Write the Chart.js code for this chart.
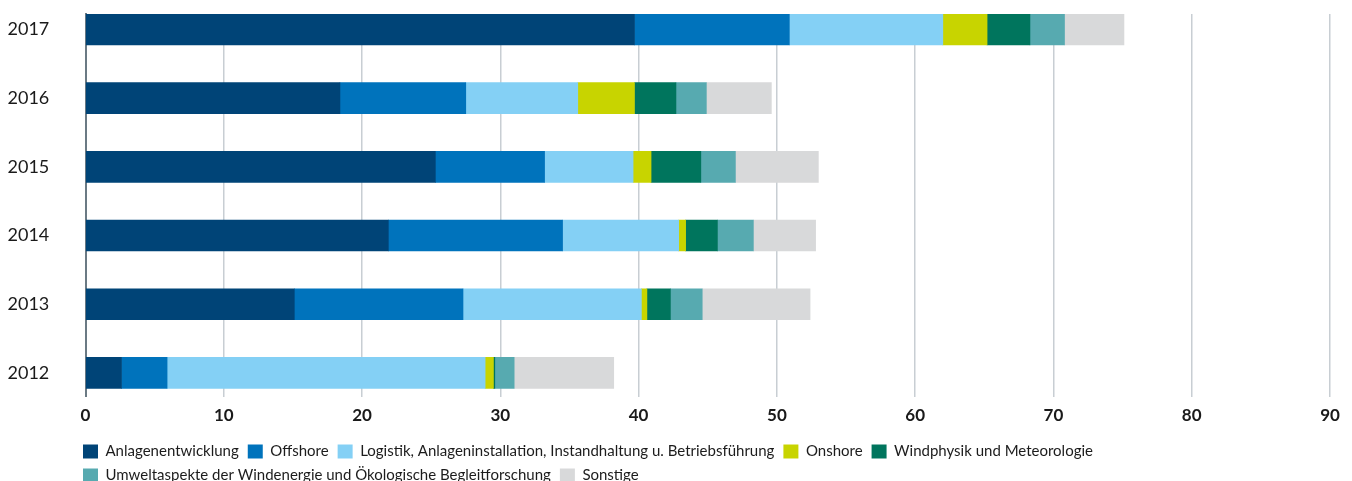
<!DOCTYPE html>
<html lang="de">
<head>
    <meta charset="UTF-8">
    <title>Windenergie Forschung</title>
    <script src="https://cdn.jsdelivr.net/npm/chart.js@4.4.1/dist/chart.umd.min.js"></script>
    <style>
        html, body { margin: 0; padding: 0; background: #fff; overflow: hidden; }
        #wrapper { position: relative; width: 1352px; height: 493px; }
    </style>
</head>
<body>

    <div id="wrapper">
        <canvas id="windChart"></canvas>
    </div>

    <script>

        // years top to bottom
        const years = [2017, 2016, 2015, 2014, 2013, 2012];

        const anlagen    = [39.7, 18.4, 25.3, 21.9, 15.1, 2.6];
        const offshore   = [11.2, 9.1, 7.9, 12.6, 12.2, 3.3];
        const logistik   = [11.1, 8.1, 6.4, 8.4, 12.9, 23.0];
        const onshore    = [3.2, 4.1, 1.3, 0.5, 0.4, 0.6];
        const windphysik = [3.1, 3.0, 3.6, 2.3, 1.7, 0.1];
        const umwelt     = [2.5, 2.2, 2.5, 2.6, 2.3, 1.4];
        const sonstige   = [4.3, 4.7, 6.0, 4.5, 7.8, 7.2];

        const xTicks = [0, 10, 20, 30, 40, 50, 60, 70, 80, 90];

        const seriesNames = [
            'Anlagenentwicklung',
            'Offshore',
            'Logistik, Anlageninstallation, Instandhaltung u. Betriebsführung',
            'Onshore',
            'Windphysik und Meteorologie',
            'Umweltaspekte der Windenergie und Ökologische Begleitforschung',
            'Sonstige'
        ];
        const seriesValues = [anlagen, offshore, logistik, onshore, windphysik, umwelt, sonstige];
        const seriesColors = ['#004477', '#0073bc', '#84d0f5', '#c8d400', '#00755d', '#57aab0', '#d8d9da'];

        const datasets = [];
        for (let i = 0; i < seriesNames.length; i++) {
            datasets.push({
                label: seriesNames[i],
                data: seriesValues[i],
                backgroundColor: seriesColors[i],
                borderWidth: 0,
                barThickness: 31
            });
        }

        // move the legend so it starts under the plot, like the original
        const legendShift = {
            id: 'legendShift',
            afterLayout(chart) {
                chart.legend.left = 74;
            }
        };

        const ctx = document.getElementById('windChart').getContext('2d');
        const windChart = new Chart(ctx, {
            type: 'bar',
            data: {
                labels: years,
                datasets: datasets
            },
            plugins: [legendShift],
            options: {
                indexAxis: 'y',
                responsive: true,
                maintainAspectRatio: false,
                animation: false,
                layout: {
                    padding: { top: 14, left: 7.5, right: 22, bottom: 0 }
                },
                plugins: {
                    legend: {
                        position: 'bottom',
                        align: 'start',
                        labels: {
                            boxWidth: 15,
                            boxHeight: 14,
                            padding: 9,
                            color: '#1c1c1c',
                            font: { family: 'Lato', size: 15 }
                        }
                    },
                    tooltip: { enabled: false }
                },
                scales: {
                    x: {
                        stacked: true,
                        min: 0,
                        max: 90,
                        afterBuildTicks: (scale) => {
                            scale.ticks = xTicks.map(v => ({ value: v }));
                        },
                        grid: {
                            color: '#c8ced3',
                            lineWidth: 1.5,
                            drawTicks: false
                        },
                        border: { display: false },
                        ticks: {
                            padding: 9,
                            color: '#1a1a1a',
                            font: { family: 'Lato', size: 17, weight: 'bold' }
                        }
                    },
                    y: {
                        type: 'linear',
                        stacked: true,
                        offset: false,
                        min: 2011.655,
                        max: 2017.225,
                        afterBuildTicks: (scale) => {
                            scale.ticks = years.map(v => ({ value: v }));
                        },
                        afterFit: (scale) => {
                            scale.width = 78;
                        },
                        grid: { display: false, drawTicks: false },
                        border: { display: true, color: '#6b7a84', width: 2 },
                        ticks: {
                            padding: 0,
                            crossAlign: 'far',
                            color: '#1a1a1a',
                            font: { family: 'Lato', size: 18 },
                            callback: function(value) {
                                return String(value);
                            }
                        }
                    }
                }
            }
        });

    </script>

</body>
</html>
